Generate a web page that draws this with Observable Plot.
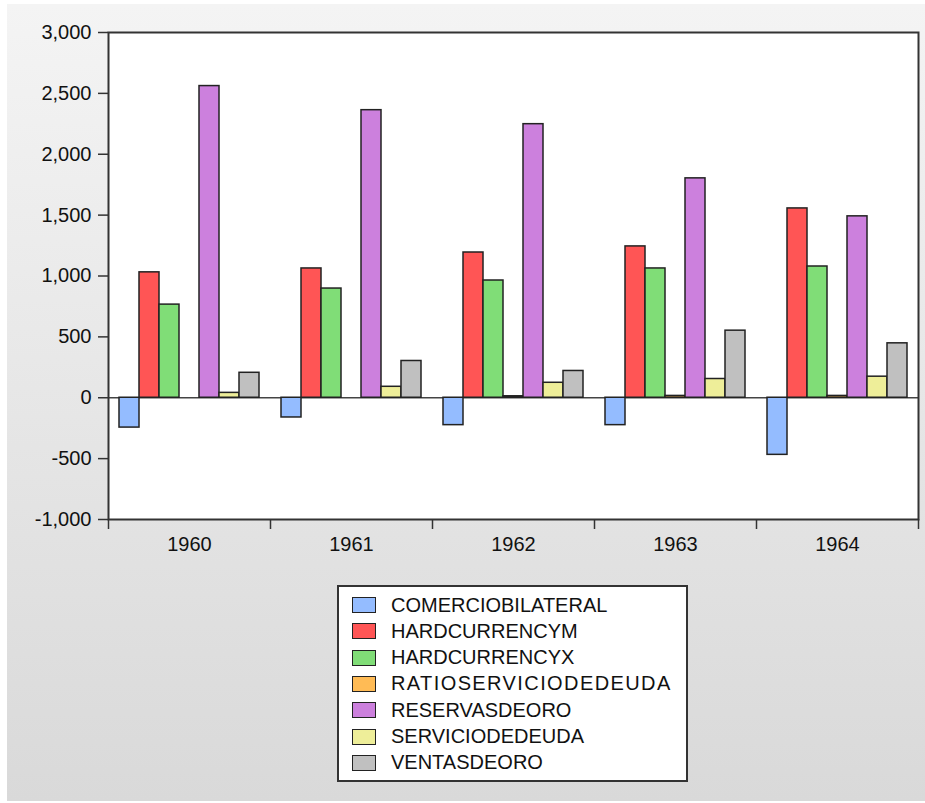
<!DOCTYPE html>
<html>
<head>
<meta charset="utf-8">
<script src="https://cdn.jsdelivr.net/npm/d3@7"></script>
<script src="https://cdn.jsdelivr.net/npm/@observablehq/plot@0.6"></script>
<style>
  html, body { margin: 0; padding: 0; background: #ffffff; }
  body { width: 925px; height: 803px; position: relative; overflow: hidden; font-family: "Liberation Sans", Arial, sans-serif; }
  #panel { position: absolute; left: 7px; top: 4px; width: 918px; height: 797px;
           background: linear-gradient(#f4f4f4, #d9d9d9); }
  #chart { position: absolute; left: 0; top: 0; }
  #legend { position: absolute; left: 337px; top: 585px; width: 347px; height: 193px;
            background: #ffffff; border: 2px solid #333; box-sizing: content-box; padding: 0; }
  .item { position: absolute; left: 13px; height: 26px; display: flex; align-items: center;
          font-size: 20px; color: #111; white-space: nowrap; }
  .sw { width: 22px; height: 14px; border: 1.5px solid #222; margin-right: 15px; flex: none; }
</style>
</head>
<body>
<div id="panel"></div>
<div id="chart"></div>
<div id="legend"></div>
<script>
const years = ["1960", "1961", "1962", "1963", "1964"];
const series = ["COMERCIOBILATERAL", "HARDCURRENCYM", "HARDCURRENCYX", "RATIOSERVICIODEDEUDA", "RESERVASDEORO", "SERVICIODEDEUDA", "VENTASDEORO"];
const colors = ["#94bcff", "#ff5555", "#80dd77", "#ffbb55", "#cc80dd", "#eeee99", "#c0c0c0"];

const comercioBilateral = [-245, -162, -225, -225, -469];
const hardCurrencyM     = [1030, 1062, 1193, 1243, 1555];
const hardCurrencyX     = [765, 897, 963, 1062, 1078];
const ratioServicio     = [0, 0, 12, 15, 15];
const reservasDeOro     = [2560, 2362, 2247, 1802, 1490];
const servicioDeDeuda   = [40, 90, 123, 154, 173];
const ventasDeOro       = [205, 302, 220, 551, 447];

const yTicks = [-1000, -500, 0, 500, 1000, 1500, 2000, 2500, 3000];

const seriesValues = [comercioBilateral, hardCurrencyM, hardCurrencyX, ratioServicio, reservasDeOro, servicioDeDeuda, ventasDeOro];
const data = [];
years.forEach((yr, i) => {
  series.forEach((s, j) => data.push({year: yr, series: s, value: seriesValues[j][i]}));
});

const W = 925, H = 560, mL = 108, mR = 7, mT = 32, mB = 41;
const bandHalf = (W - mL - mR) / years.length / 2;
const fmt = d => d3.format(",")(d).replace("\u2212", "-");

const chart = Plot.plot({
  width: W, height: H,
  marginLeft: mL, marginRight: mR, marginTop: mT, marginBottom: mB,
  style: { background: "transparent", fontFamily: "Liberation Sans, Arial, sans-serif", fontSize: "20px", color: "#111" },
  fx: { domain: years, padding: 0, label: null },
  x: { domain: series, paddingInner: 0, paddingOuter: 0.55, axis: null },
  y: { domain: [-1000, 3000], label: null },
  color: { domain: series, range: colors },
  marks: [
    Plot.frame({ facet: "super", fill: "white", stroke: "none" }),
    Plot.ruleY([0], { stroke: "#444", strokeWidth: 1.5 }),
    Plot.barY(data, { fx: "year", x: "series", y: "value", fill: "series", stroke: "#222", strokeWidth: 1.5 }),
    Plot.axisY({ ticks: yTicks, tickSize: 10, tickPadding: 7, tickFormat: fmt, fontSize: 20, stroke: "#333", strokeWidth: 1.5, label: null }),
    Plot.axisFx({ anchor: "bottom", tickSize: 0, tickPadding: 17, fontSize: 20, label: null }),
    Plot.axisFx({ anchor: "bottom", tickSize: 10, tickFormat: () => "", dx: -bandHalf, stroke: "#333", strokeWidth: 1.5, label: null }),
    Plot.axisFx({ anchor: "bottom", ticks: ["1964"], tickSize: 10, tickFormat: () => "", dx: bandHalf, stroke: "#333", strokeWidth: 1.5, label: null }),
    Plot.frame({ facet: "super", stroke: "#333", strokeWidth: 2 })
  ]
});
document.getElementById("chart").appendChild(chart);

const legend = document.getElementById("legend");
series.forEach((s, j) => {
  const it = document.createElement("div");
  it.className = "item";
  it.style.top = (5 + j * 26.3) + "px";
  const sw = document.createElement("div");
  sw.className = "sw";
  sw.style.background = colors[j];
  const tx = document.createElement("span");
  tx.textContent = s;
  if (s === "RATIOSERVICIODEDEUDA") tx.style.letterSpacing = "1.4px";
  it.appendChild(sw);
  it.appendChild(tx);
  legend.appendChild(it);
});
</script>
</body>
</html>
